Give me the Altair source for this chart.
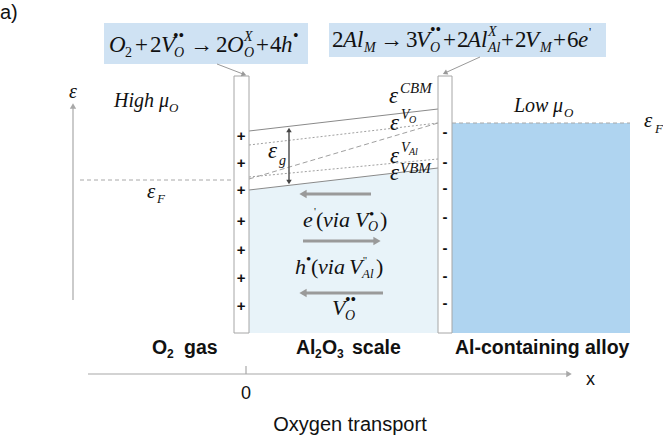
import altair as alt
import pandas as pd

W, H = 663, 437

# ---- geometry of the scheme (pixel-like units, y grows downward) ----
bar_left = [234, 249]
bar_right = [438, 452]
bar_top, bar_bottom = 76, 333

# band levels across the oxide scale, gas side -> alloy side
scale_x = [249, 438]
cbm_y = [131, 109]
vo_y = [145, 123]
val_y = [177, 159]
vo_trend_y = [179, 123]
vbm_y = [190, 168]

alloy_x = [452, 630]
alloy_fermi_y = 123
gas_fermi_y = 180
gas_fermi_x = [80, 233]

eq_box1 = [104, 308, 23, 64]
eq_box2 = [329, 606, 23, 57]

plus_y = [136, 163, 190, 221, 250, 278, 306]
minus_y = [132, 162, 188, 217, 248, 276, 303]

xs = alt.Scale(domain=[0, W], nice=False, zero=False)
ys = alt.Scale(domain=[0, H], nice=False, zero=False, reverse=True)


def X(f="x"):
    return alt.X(f"{f}:Q", scale=xs, axis=None)


def Y(f="y"):
    return alt.Y(f"{f}:Q", scale=ys, axis=None)


def rects(rows, **mk):
    df = pd.DataFrame(rows, columns=["x", "x2", "y", "y2"])
    return alt.Chart(df).mark_rect(**mk).encode(
        x=X(), x2=alt.X2("x2:Q"), y=Y(), y2=alt.Y2("y2:Q"))


def segs(rows, **mk):
    df = pd.DataFrame(rows, columns=["x", "y", "x2", "y2"])
    return alt.Chart(df).mark_rule(**mk).encode(
        x=X(), y=Y(), x2=alt.X2("x2:Q"), y2=alt.Y2("y2:Q"))


def heads(rows, color):
    df = pd.DataFrame(rows, columns=["x", "y", "a", "s"])
    return alt.Chart(df).mark_point(
        shape="triangle-up", filled=True, opacity=1, color=color, strokeWidth=0
    ).encode(x=X(), y=Y(), angle=alt.Angle("a:Q", scale=None),
             size=alt.Size("s:Q", scale=None, legend=None))


def texts(rows, font, style="normal", weight="normal", align="left", color="#111111"):
    df = pd.DataFrame(rows, columns=["x", "y", "t", "s"])
    return alt.Chart(df).mark_text(
        font=font, fontStyle=style, fontWeight=weight, align=align,
        baseline="alphabetic", color=color
    ).encode(x=X(), y=Y(), text="t:N",
             size=alt.Size("s:Q", scale=None, legend=None))


SERIF = "Liberation Serif, DejaVu Serif, serif"
SANS = "Liberation Sans, Arial, sans-serif"

# ---- filled regions ----
boxes = rects([eq_box1, eq_box2], color="#cfe2f3")
alloy = rects([[alloy_x[0], alloy_x[1], alloy_fermi_y, bar_bottom]], color="#afd4f0")
scale_fill = alt.Chart(pd.DataFrame({"x": scale_x, "y": vbm_y, "y2": [bar_bottom] * 2})).mark_area(
    color="#e8f3f9").encode(x=X(), y=Y(), y2=alt.Y2("y2:Q"))

# ---- levels ----
fermi = segs([[gas_fermi_x[0], gas_fermi_y, gas_fermi_x[1], gas_fermi_y],
              [alloy_x[0], alloy_fermi_y, alloy_x[1], alloy_fermi_y]],
             color="#a8a8a8", strokeWidth=1, strokeDash=[4, 3])
solid_bands = segs([[scale_x[0], cbm_y[0], scale_x[1], cbm_y[1]],
                    [scale_x[0], vbm_y[0], scale_x[1], vbm_y[1]]],
                   color="#8a8a8a", strokeWidth=1)
dotted_bands = segs([[scale_x[0], vo_y[0], scale_x[1], vo_y[1]],
                     [scale_x[0], val_y[0], scale_x[1], val_y[1]]],
                    color="#a0a0a0", strokeWidth=1, strokeDash=[2, 2])
dashed_band = segs([[scale_x[0], vo_trend_y[0], scale_x[1], vo_trend_y[1]]],
                   color="#a0a0a0", strokeWidth=1, strokeDash=[5, 3])

# ---- interface bars ----
bars = rects([[bar_left[0], bar_left[1], bar_top, bar_bottom],
              [bar_right[0], bar_right[1], bar_top, bar_bottom]],
             fill="white", stroke="#a6a6a6", strokeWidth=1)

# ---- arrows ----
callouts = segs([[217, 64, 243, 74], [480, 57, 447, 72]], color="#999999", strokeWidth=1)
callout_heads = heads([[244, 74.5, 110, 30], [445, 73, 245, 30]], "#999999")

flow = segs([[371, 194, 306, 194], [303, 241, 374, 241], [383, 293, 306, 293]],
            color="#9a9a9a", strokeWidth=3)
flow_heads = heads([[303, 194, 270, 70], [377, 241, 90, 70], [303, 293, 270, 70]], "#9a9a9a")

gap = segs([[289, 131, 289, 181]], color="#555555", strokeWidth=1.5)
gap_heads = heads([[289, 130, 0, 30], [289, 182, 180, 30]], "#444444")

axes = segs([[73, 300, 73, 108], [88, 374, 567, 374], [246, 366, 246, 374]],
            color="#a8a8a8", strokeWidth=1.2)
axes_heads = heads([[73, 106, 0, 40], [569, 374, 90, 40]], "#a8a8a8")

# ---- charges ----
plus = texts([[241, y + 5, "+", 15] for y in plus_y], SANS, weight="bold", align="center")
minus = texts([[445, y + 5, "-", 15] for y in minus_y], SANS, weight="bold", align="center")

# ---- math text ----
math_italic = [
    # O2 + 2V_O.. -> 2O_O^X + 4h.
    [109, 52, "O", 23], [161, 52, "V", 23], [174, 57, "O", 14], [227, 52, "O", 23],
    [244, 41, "X", 14], [244, 57, "O", 14], [281, 52, "h", 23],
    # 2Al_M -> 3V_O.. + 2Al_Al^X + 2V_M + 6e'
    [343, 47, "Al", 23], [364, 52, "M", 14], [416, 47, "V", 23], [430, 52, "O", 14],
    [467, 47, "Al", 23], [488, 36, "X", 14], [488, 52, "Al", 14], [525, 47, "V", 23],
    [540, 52, "M", 14], [578, 47, "e", 23],
    # band labels
    [389, 103, "ε", 23], [400, 93, "CBM", 15],
    [390, 130, "ε", 23], [401, 119, "V", 14], [409, 123, "O", 10],
    [390, 163, "ε", 23], [401, 152, "V", 14], [409, 155, "Al", 10],
    [390, 180, "ε", 23], [400, 173, "VBM", 15],
    [268, 158, "ε", 23], [279, 165, "g", 14],
    # energy axis and chemical potentials
    [69, 98, "ε", 20],
    [114, 107, "High", 20], [159, 107, "μ", 20], [169, 112, "O", 13],
    [147, 198, "ε", 21], [157, 203, "F", 13],
    [514, 112, "Low", 20], [553, 112, "μ", 20], [564, 117, "O", 13],
    [644, 127, "ε", 21], [655, 133, "F", 13],
    # carriers in the scale
    [303, 227, "e", 22], [323, 227, "via", 22], [355, 227, "V", 22], [368, 231, "O", 14],
    [295, 274, "h", 22], [318, 274, "via", 22], [349, 274, "V", 22], [362, 278, "Al", 13],
    [332, 315, "V", 22], [345, 320, "O", 14],
]
math_roman = [
    [125, 57, "2", 14], [135, 52, "+", 23], [150, 52, "2", 23], [173, 41, "••", 16],
    [190, 52, "→", 23], [216, 52, "2", 23], [256, 52, "+", 23], [270, 52, "4", 23],
    [293, 41, "•", 16],
    [332, 47, "2", 23], [380, 47, "→", 23], [406, 47, "3", 23], [430, 35, "••", 16],
    [443, 47, "+", 23], [457, 47, "2", 23], [501, 47, "+", 23], [515, 47, "2", 23],
    [553, 47, "+", 23], [567, 47, "6", 23], [589, 36, "'", 12],
    [314, 215, "'", 11], [316, 227, "(", 22], [369, 219, "•", 15], [380, 227, ")", 22],
    [306, 264, "•", 15], [311, 274, "(", 22], [363, 264, "''", 11], [376, 274, ")", 22],
    [345, 305, "••", 16],
]

# ---- plain labels ----
region_bold = [
    [152, 354, "O", 19.5], [167, 358, "2", 12], [184, 354, "gas", 19.5],
    [296, 354, "Al", 19.5], [315, 358, "2", 12], [322, 354, "O", 19.5], [337, 358, "3", 12],
    [352, 354, "scale", 19.5],
    [455, 354, "Al-containing alloy", 19.5],
]
plain_left = [[0, 19, "a)", 20], [586, 385, "x", 18]]
plain_center = [[246, 399, "0", 18], [350, 431, "Oxygen transport", 20]]

chart = alt.layer(
    boxes, scale_fill, alloy, fermi, dashed_band, dotted_bands, solid_bands,
    bars, callouts, callout_heads, flow, flow_heads, gap, gap_heads, axes, axes_heads,
    plus, minus,
    texts(math_italic, SERIF, style="italic"),
    texts(math_roman, SERIF),
    texts(region_bold, SANS, weight="bold"),
    texts(plain_left, SANS),
    texts(plain_center, SANS, align="center"),
).properties(
    width=W, height=H, padding=0, autosize=alt.AutoSizeParams(type="none")
).configure_view(stroke=None)

chart.save("out.html", embed_options={"renderer": "svg", "actions": False})
